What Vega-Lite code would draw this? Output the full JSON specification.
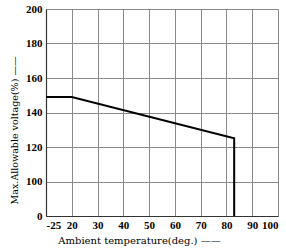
{
  "$schema": "https://vega.github.io/schema/vega-lite/v6.json",
  "autosize": "none",
  "padding": {"left": 46, "top": 9, "right": 8, "bottom": 36},
  "width": 232,
  "height": 207,
  "background": "white",
  "config": {
    "view": {"stroke": null},
    "font": "Liberation Serif",
    "axis": {
      "labelFont": "Liberation Serif",
      "titleFont": "DejaVu Serif",
      "labelFontSize": 11,
      "labelFontWeight": "bold",
      "labelColor": "black",
      "titleColor": "black",
      "titleFontWeight": "normal",
      "gridColor": "#8a8a8a",
      "gridOpacity": 1,
      "gridWidth": 1,
      "domainColor": "#333333",
      "domainWidth": 1.2,
      "ticks": false
    }
  },
  "data": {
    "values": [
      {"i": 0, "temp": -25, "voltage": 149},
      {"i": 1, "temp": 20, "voltage": 149},
      {"i": 2, "temp": 83, "voltage": 125},
      {"i": 3, "temp": 83, "voltage": 0}
    ]
  },
  "mark": {"type": "line", "color": "black", "strokeWidth": 2},
  "encoding": {
    "x": {
      "field": "temp",
      "type": "quantitative",
      "scale": {"domain": [-25, 20, 100], "range": [0, 25.78, 232], "zero": false, "nice": false},
      "axis": {
        "values": [-25, 20, 30, 40, 50, 60, 70, 80, 90, 100],
        "labelExpr": "'' + datum.value",
        "labelOverlap": false,
        "title": "Ambient temperature(deg.) ——",
        "titleFontSize": 10,
        "titleX": 93,
        "labelPadding": 3,
        "titlePadding": 5,
        "grid": true
      }
    },
    "y": {
      "field": "voltage",
      "type": "quantitative",
      "scale": {"domain": [0, 100, 200], "range": [207, 172.5, 0], "zero": false, "nice": false},
      "axis": {
        "values": [0, 100, 120, 140, 160, 180, 200],
        "title": "Max.Allowable voltage(%) ——",
        "titleFontSize": 9.5,
        "titleY": 121,
        "labelPadding": 4,
        "titlePadding": 6,
        "grid": true
      }
    },
    "order": {"field": "i", "type": "quantitative"}
  }
}
